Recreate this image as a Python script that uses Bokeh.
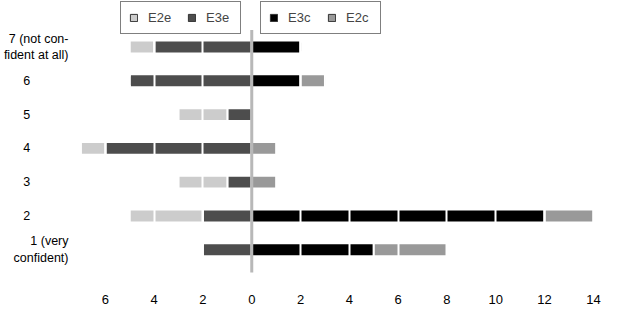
import numpy as np
from bokeh.plotting import figure
from bokeh.models import ColumnDataSource, Legend, LegendItem, FixedTicker
from bokeh.embed import file_html
from bokeh.resources import INLINE

levels = [1, 2, 3, 4, 5, 6, 7]
level_labels = ["1 (very\nconfident)", "2", "3", "4", "5", "6", "7 (not con-\nfident at all)"]
E3e = [2, 2, 1, 6, 1, 5, 4]
E2e = [0, 3, 2, 1, 2, 0, 1]
E3c = [5, 12, 0, 0, 0, 2, 2]
E2c = [3, 2, 1, 1, 0, 1, 0]
x_ticks = [-6, -4, -2, 0, 2, 4, 6, 8, 10, 12, 14]

colors = {"E2e": "#cccccc", "E3e": "#4d4d4d", "E3c": "#000000", "E2c": "#999999"}

e3e = np.array(E3e, dtype=float)
e2e = np.array(E2e, dtype=float)
e3c = np.array(E3c, dtype=float)
e2c = np.array(E2c, dtype=float)

segs = {
    "E3e": (-e3e, np.zeros_like(e3e)),
    "E2e": (-e3e - e2e, -e3e),
    "E3c": (np.zeros_like(e3c), e3c),
    "E2c": (e3c, e3c + e2c),
}

FONT = "Liberation Sans"
y_lo = min(levels) - 0.85
y_hi = max(levels) + 1.375

p = figure(width=607, height=306, x_range=(-7.1, 14.25), y_range=(y_lo, y_hi),
           output_backend="svg", toolbar_location=None,
           min_border_top=0, min_border_bottom=0, min_border_right=8, min_border_left=10)
p.outline_line_color = None
p.ygrid.visible = False

legend_glyphs = {}
for name in ["E3e", "E2e", "E3c", "E2c"]:
    left, right = segs[name]
    src = ColumnDataSource(dict(y=levels, left=left, right=right))
    # dark-outlined copy (hidden inside the visible bars) used for the legend swatch
    legend_glyphs[name] = p.hbar(y="y", left="left", right="right", height=0.25, source=src,
                                 fill_color=colors[name], line_color="#333333", line_width=1)
    p.hbar(y="y", left="left", right="right", height=0.38, source=src,
           fill_color=colors[name], line_color="white", line_width=2)

# zero reference line
p.segment(x0=[0], x1=[0], y0=[min(levels) - 0.67], y1=[max(levels) + 0.5],
          line_color="#b8b8b8", line_width=3)

# white separators at every even value
p.xgrid.ticker = FixedTicker(ticks=[t for t in x_ticks if t != 0])
p.xgrid.grid_line_color = "white"
p.xgrid.grid_line_width = 2
p.xgrid.level = "annotation"

NB = "\u00a0" * 11
p.xaxis.ticker = FixedTicker(ticks=x_ticks)
p.xaxis.major_label_overrides = {t: str(abs(t)) for t in x_ticks}
p.yaxis.ticker = FixedTicker(ticks=levels)
p.yaxis.major_label_overrides = {l: (s if "\n" in s else s + NB) for l, s in zip(levels, level_labels)}
for ax in (p.xaxis, p.yaxis):
    ax.axis_line_color = None
    ax.major_tick_line_color = None
    ax.minor_tick_line_color = None
    ax.major_label_text_font = FONT
    ax.major_label_text_font_size = "13px"
    ax.major_label_text_color = "black"
p.xaxis.major_label_standoff = 10
p.yaxis.major_label_standoff = 4
p.yaxis.major_label_text_align = "center"
p.yaxis.major_label_text_font_size = "12.5px"

def make_legend(names, x):
    lg = Legend(items=[LegendItem(label=n, renderers=[legend_glyphs[n]]) for n in names],
                orientation="horizontal", location=(x, 244),
                border_line_color="black", border_line_width=1.2,
                padding=8, margin=0, spacing=13, label_standoff=10, label_width=26,
                glyph_width=9, glyph_height=9, label_height=14,
                label_text_font=FONT, label_text_font_size="13px",
                background_fill_alpha=1)
    return lg

p.add_layout(make_legend(["E2e", "E3e"], 42))
p.add_layout(make_legend(["E3c", "E2c"], 182))

open("out.html", "w").write(file_html(p, INLINE))
